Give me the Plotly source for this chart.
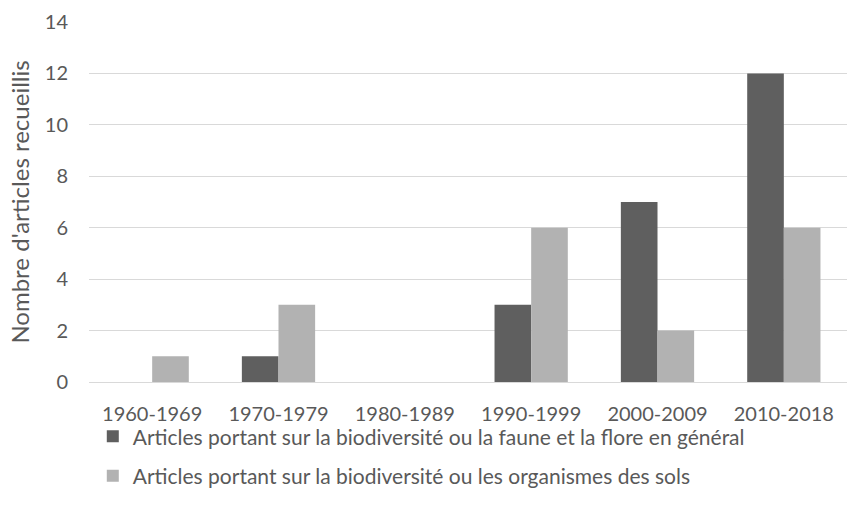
import plotly.graph_objects as go

# Decades on the x axis
decades = ["1960-1969", "1970-1979", "1980-1989", "1990-1999", "2000-2009", "2010-2018"]

# Article counts per decade
faune_flore = [0, 1, 0, 3, 7, 12]
organismes_sols = [1, 3, 0, 6, 2, 6]

name_faune = "Articles portant sur la biodiversité ou la faune et la flore en général"
name_sols = "Articles portant sur la biodiversité ou les organismes des sols"

FONT = "Lato, 'Open Sans', sans-serif"
TXT = "#595959"

fig = go.Figure()
fig.add_trace(go.Bar(x=decades, y=faune_flore, name=name_faune,
                     marker=dict(color="#5f5f5f", line=dict(width=0)),
                     legendgroup="a"))
fig.add_trace(go.Bar(x=decades, y=organismes_sols, name=name_sols,
                     marker=dict(color="#b2b2b2", line=dict(width=0)),
                     legendgroup="b"))

fig.update_layout(
    width=847, height=517,
    margin=dict(l=89, r=0, t=22, b=135, autoexpand=False),
    paper_bgcolor="white", plot_bgcolor="white",
    barmode="group", bargap=0.42, bargroupgap=0,
    font=dict(family=FONT, size=19, color=TXT),
    showlegend=True,
    legend=dict(
        orientation="v", x=0.005, xanchor="left", y=-0.095, yanchor="top",
        font=dict(size=21, color=TXT), tracegroupgap=9,
        itemwidth=30, bgcolor="rgba(0,0,0,0)",
    ),
)
fig.update_xaxes(showgrid=False, showline=True, linecolor="#d9d9d9", linewidth=1,
                 ticks="", tickfont=dict(size=20, color=TXT), ticklabelstandoff=14)
fig.update_yaxes(range=[0, 14], dtick=2, showgrid=True, gridcolor="#d9d9d9",
                 gridwidth=1, zeroline=False, showline=False, ticks="",
                 tickfont=dict(size=20, color=TXT), ticklabelstandoff=20,
                 title=dict(text="Nombre d'articles recueillis",
                            font=dict(size=24, color=TXT), standoff=8))

# drop the default page margin so the figure sits at the window corner
fig.write_html("out.html", config={"displayModeBar": False},
               post_script="document.body.style.margin='0';")
